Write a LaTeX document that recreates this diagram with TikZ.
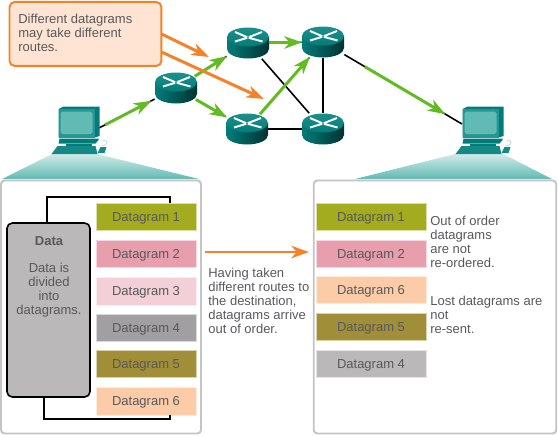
\documentclass[tikz,border=0pt]{standalone}
\usepackage{fontspec}
\setmainfont{Liberation Sans}
\usetikzlibrary{arrows.meta,backgrounds,calc}

\definecolor{txtgray}{HTML}{58595B}
\definecolor{orangeline}{HTML}{F58229}
\definecolor{orangefill}{HTML}{FFE4D3}
\definecolor{greenline}{HTML}{62BB23}
\definecolor{panelgray}{HTML}{C4C4C4}
\definecolor{tealdark}{HTML}{007D7A}
\definecolor{tealscreen}{HTML}{62BAB4}
\definecolor{dgolive}{HTML}{A3AB1F}
\definecolor{dgrose}{HTML}{E89FAD}
\definecolor{dgpink}{HTML}{F3CFD8}
\definecolor{dggray}{HTML}{A19FA1}
\definecolor{dgbrown}{HTML}{A08F38}
\definecolor{dgpeach}{HTML}{FBCCA7}
\definecolor{dglight}{HTML}{BAB8B9}

\tikzset{
  dgtext/.style={font=\fontsize{7.4}{8}\selectfont, text=txtgray},
  note/.style={dgtext, align=left, anchor=north west, inner sep=0pt},
  dgbox/.style={dgtext, minimum height=0.55cm, inner sep=0pt, text height=6.4pt, text depth=1.5pt, draw=white!60!#1, line width=0.3pt, fill=#1},
  dgleft/.style={dgbox=#1, minimum width=2.0cm},
  dgright/.style={dgbox=#1, minimum width=2.2cm},
  panel/.style={draw=panelgray, line width=1.1pt, fill=white, rounded corners=2pt, minimum height=5.06cm, inner sep=0pt},
  link/.style={black, line width=0.9pt},
  route/.style={greenline, line width=1.7pt, -{Stealth[length=10pt,width=7pt,inset=3pt]}},
  hint/.style={orangeline, line width=1.7pt, -{Stealth[length=10pt,width=7pt,inset=3pt]}},
  marker/.style={inner sep=0pt, minimum width=0.84cm, minimum height=0.62cm},
}

% router: name, centre
\newcommand{\routericon}[2]{
  \node [marker] (#1) at (#2) {};
  \begin{scope}[shift={(#2)}]
    \path [left color=tealdark, middle color=tealscreen, right color=black!60!tealdark]
      (-21,-6) -- (-21,6) arc [start angle=180, end angle=0, x radius=21, y radius=9.5] -- (21,-6) -- cycle;
    \path [top color=tealdark!70!tealscreen, bottom color=tealdark] (0,-6) ellipse [x radius=21, y radius=9.5];
    \draw [white, line width=1.1pt] (-0.8,-5.8) -- (-13,-11) (0.8,-5.8) -- (14,-11) (-0.8,-5.2) -- (-13,-1.5) (0.8,-5.2) -- (14.5,-1.5);
  \end{scope}
}

% computer: name, centre of the monitor
\newcommand{\pcicon}[2]{
  \node [marker] (#1) at (#2) {};
  \begin{scope}[shift={(#2)}]
    \fill [tealdark] (-20,-13) -- (-15,-15.5) -- (21,-15.5) -- (21,14) -- (16,15.5) -- (-20,15.5) -- cycle;
    \fill [tealscreen!40!tealdark] (-20,-13) rectangle (16,15.5);
    \fill [tealscreen, rounded corners=1pt] (-18,-10.5) rectangle (14,12);
    \fill [tealdark] (-19,16.5) -- (20,16.5) -- (20,18) -- (17,21.5) -- (-20,21.5) -- cycle;
    \fill [tealdark] (-13,21.5) rectangle (13,24);
    \fill [tealdark!80!tealscreen] (-21,24) -- (17,24) -- (19,32) -- (-27,32) -- cycle;
    \fill [tealdark!80!tealscreen] (19,31) -- (22,25) -- (28,25) -- (26,31) -- cycle;
    \draw [tealscreen!60!white, line width=0.3pt] (23,24) .. controls (31,23) and (30,17) .. (24,19);
  \end{scope}
}

\begin{document}
\begin{tikzpicture}[x=0.02cm, y=-0.02cm]
\useasboundingbox (0,0) rectangle (558,436);

% panels and the fans above them
\shade [top color=tealscreen!30!white, bottom color=tealscreen] (52,154) -- (97,154) -- (199,179) -- (2,179) -- cycle;
\shade [top color=tealscreen!30!white, bottom color=tealscreen] (455,154) -- (503,154) -- (552,179) -- (355,179) -- cycle;
\node [panel, minimum width=4.0cm] (srcpanel) at (101,307) {};
\node [panel, minimum width=4.85cm] (dstpanel) at (435,307) {};

% network
\routericon{ra}{176,88}
\routericon{rb}{248,43}
\routericon{rc}{247,129}
\routericon{rd}{323,42}
\routericon{re}{323,129}
\pcicon{pca}{78.5,122}
\pcicon{pcb}{482.5,122}
\coordinate (pcaport) at (99,128);
\coordinate (pcbport) at (462,124);

\begin{scope}[on background layer]
\draw [link] (pcaport) -- (ra);
\draw [link] (ra) -- (rb);
\draw [link] (ra) -- (rc);
\draw [link] (rb) -- (rd);
\draw [link] (rb) -- (re);
\draw [link] (rc) -- (rd);
\draw [link] (rc) -- (re);
\draw [link] (rd) -- (re);
\draw [link] (rd) -- (pcbport);
\end{scope}

\draw [route] ($(pcaport)!0.08!(ra)$) -- ($(pcaport)!0.68!(ra)$);
\draw [route] ($(ra)!0.26!(rb)$) -- ($(ra)!0.71!(rb)$);
\draw [route] ($(ra)!0.28!(rc)$) -- ($(ra)!0.72!(rc)$);
\draw [route] ($(rb)!0.28!(rd)$) -- ($(rb)!0.72!(rd)$);
\draw [route] ($(rc)!0.17!(rd)$) -- ($(rc)!0.83!(rd)$);
\draw [route] ($(rd)!0.30!(pcbport)$) -- ($(rd)!0.88!(pcbport)$);

% callout
\node [note, draw=orangeline, line width=1.1pt, fill=orangefill, rounded corners=3pt,
       minimum width=3.04cm, minimum height=1.28cm, anchor=north west] (callout) at (8.5,1) {};
\node [note, anchor=west] (calltxt) at (18,33) {Different datagrams\\may take different\\routes.};
\coordinate (hintaend) at (209,57);
\coordinate (hintbend) at (264,99);
\coordinate (hintastart) at (161.5,34);
\coordinate (hintbstart) at (161.5,52);
\draw [hint] (hintastart) -- (hintaend);
\draw [hint] (hintbstart) -- (hintbend);

% source side
\node [draw=black, line width=0.9pt, fill=dglight, rounded corners=3pt, minimum width=1.66cm, minimum height=3.48cm, inner sep=0pt] (data) at (48.5,310) {};
\node [note, anchor=north, align=center, font=\fontsize{7.4}{8}\selectfont\bfseries] (datahead) at (49,236) {Data};
\node [note, anchor=north, align=center] (datatxt) at (49,263) {Data is\\divided\\into\\datagrams.};

\node [dgleft=dgolive] (sa) at (146,217) {Datagram 1};
\node [dgleft=dgrose] (sb) at (146,254) {Datagram 2};
\node [dgleft=dgpink] (sc) at (146,291.5) {Datagram 3};
\node [dgleft=dggray] (sd) at (146,328) {Datagram 4};
\node [dgleft=dgbrown] (se) at (146,364) {Datagram 5};
\node [dgleft=dgpeach] (sf) at (146,401.5) {Datagram 6};

\coordinate (uprise) at (47,197);
\coordinate (lowrun) at (44,419);
\coordinate (sain) at (170,203);
\coordinate (sfin) at (170,415);
\draw [link] (uprise |- data.north) -- (uprise) -- (uprise -| sain) -- (sain);
\draw [link] (lowrun |- data.south) -- (lowrun) -- (lowrun -| sfin) -- (sfin);

% middle
\coordinate (passa) at (205,252);
\coordinate (passb) at (309,252);
\draw [hint] (passa) -- (passb);
\node [note] (midtxt) at (208,268) {Having taken\\different routes to\\the destination,\\datagrams arrive\\out of order.};

% destination side
\node [dgright=dgolive] (ta) at (371,217) {Datagram 1};
\node [dgright=dgrose] (tb) at (371,254) {Datagram 2};
\node [dgright=dgpeach] (tc) at (371,290) {Datagram 6};
\node [dgright=dgbrown] (td) at (371,327) {Datagram 5};
\node [dgright=dglight] (te) at (371,364) {Datagram 4};

\node [note] (ordertxt) at (430,216) {Out of order\\datagrams\\are not\\re-ordered.};
\node [note] (losttxt) at (430,296) {Lost datagrams are\\not\\re-sent.};

\end{tikzpicture}
\end{document}
